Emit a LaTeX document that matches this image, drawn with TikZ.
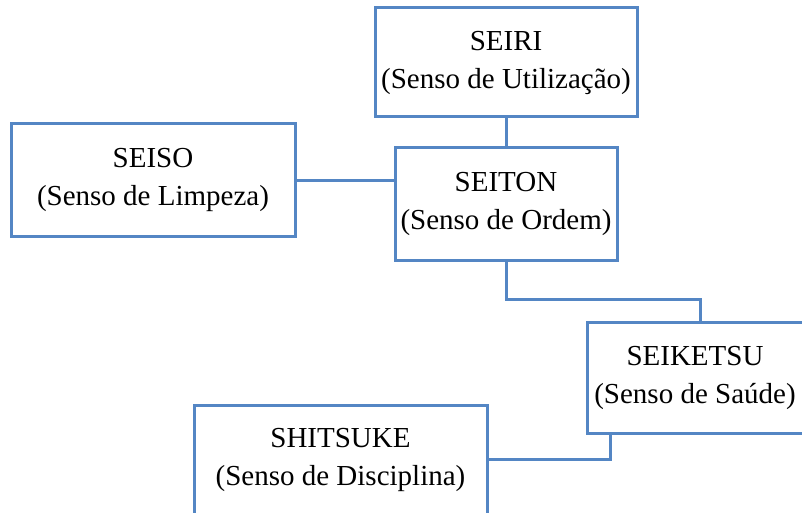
\documentclass[tikz,border=0pt]{standalone}
\usepackage{fontspec}
\setmainfont{Liberation Serif}
\definecolor{boxblue}{RGB}{84,134,196}
\begin{document}
\begin{tikzpicture}[x=1pt,y=-1pt,
  box/.style={draw=boxblue,line width=3pt,fill=white,inner sep=0pt,align=center,
    font=\fontsize{29}{38}\selectfont},
  conn/.style={draw=boxblue,line width=3pt}]
\useasboundingbox (0,0) rectangle (802,513);
\begin{scope}
\clip (0,0) rectangle (802,513);
\node[box,minimum width=262pt,minimum height=109pt] (seiri) at (506,62.5) {SEIRI\\(Senso de Utilização)};
\node[box,minimum width=284pt,minimum height=112pt] (seiso) at (153,180) {SEISO\\(Senso de Limpeza)};
\node[box,minimum width=222pt,minimum height=113pt] (seiton) at (506,204) {SEITON\\(Senso de Ordem)};
\node[box,minimum width=216pt,minimum height=111pt] (seiketsu) at (695,377.5) {SEIKETSU\\(Senso de Saúde)};
\node[box,minimum width=293pt,minimum height=110pt] (shitsuke) at (340.5,460) {SHITSUKE\\(Senso de Disciplina)};
\end{scope}
\coordinate (a1) at (506,299);
\coordinate (a2) at (700,299);
\coordinate (b1) at (610,459);
\draw[conn] (seiri.south) -- (seiton.north);
\draw[conn] (seiso.east) -- (seiton.west |- seiso.east);
\draw[conn] (seiton.south) -- (a1) -- (a2) -- (seiketsu.north -| a2);
\draw[conn] (seiketsu.south -| b1) -- (b1) -- (shitsuke.east |- b1);
\end{tikzpicture}
\end{document}
